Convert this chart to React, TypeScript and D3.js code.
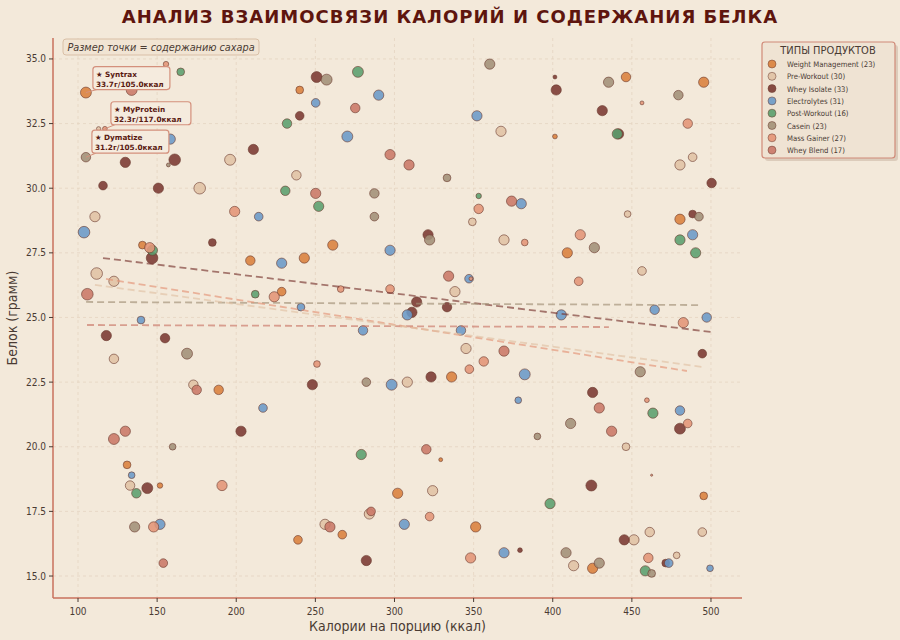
import React from 'react';
import * as d3 from 'd3';

// categories, legend counts and colours
const categories = ['Weight Management', 'Pre-Workout', 'Whey Isolate', 'Electrolytes', 'Post-Workout', 'Casein', 'Mass Gainer', 'Whey Blend'];
const counts = [23, 30, 33, 31, 16, 23, 27, 17];
const colors = ['#d97f3c', '#e0c1a4', '#7a3831', '#6a99c7', '#5a9e6d', '#a29077', '#e39476', '#c97767'];

// [calories, protein, sugar]
const weightManagement = [
  [105, 33.7, 8], [140.7, 27.8, 4], [208.9, 27.2, 6], [228.7, 26.0, 5], [240.1, 33.8, 4], [261, 27.8, 7],
  [243, 27.3, 7], [336.1, 22.7, 7], [329.2, 19.5, 1], [302, 18.2, 7], [267, 16.6, 5], [239, 16.4, 5],
  [351.3, 16.9, 7], [188.9, 22.2, 6], [131, 19.3, 4], [151.8, 18.5, 2], [446.3, 34.3, 6], [495.4, 34.1, 7],
  [401.4, 32.0, 1.5], [480.4, 28.8, 7], [409.2, 27.5, 7], [495.4, 18.1, 4], [425.2, 15.3, 7],
];
const preWorkout = [
  [196.1, 31.1, 8], [176.9, 30.0, 9], [110.7, 28.9, 7], [111.8, 26.7, 9], [122.7, 26.4, 7], [367.3, 32.2, 7],
  [238, 30.5, 6], [349.2, 28.7, 4], [369.2, 28.0, 7], [338.2, 26.0, 7], [345.2, 23.8, 7], [308.1, 22.5, 7],
  [324.1, 18.3, 7], [284.1, 17.4, 7], [256.1, 17.0, 7], [122.7, 23.4, 6], [172.9, 22.4, 6], [132.9, 18.5, 6],
  [488.4, 31.2, 5], [480.4, 30.9, 7], [447.3, 29.0, 3], [456.4, 26.8, 5], [446.3, 20.0, 4], [461.3, 16.7, 6],
  [494.5, 16.7, 5], [451.3, 16.4, 7], [413.2, 15.4, 7], [478.3, 15.8, 3], [113, 32.3, 1.2],
];
const wheyIsolate = [
  [129.9, 31.0, 7], [161.1, 31.1, 9], [210.8, 31.5, 7], [115.8, 30.1, 5], [150.8, 30.0, 7], [184.9, 27.9, 4],
  [146.8, 27.3, 9], [250.8, 34.3, 8], [240.1, 32.8, 5], [321.2, 28.2, 7], [314, 25.6, 7], [311, 25.2, 7],
  [333.2, 25.4, 6], [248.1, 22.4, 7], [323.1, 22.7, 7], [282.2, 15.6, 7], [117.9, 24.3, 7], [155, 24.2, 6],
  [203, 20.6, 7], [143.8, 18.4, 8], [401.4, 34.3, 1], [402.2, 33.8, 7], [431.3, 33.0, 7], [441.6, 32.1, 7],
  [500.4, 30.2, 6], [488.4, 29.0, 4], [494.5, 23.6, 5], [425.2, 22.1, 7], [480.4, 20.7, 8], [424.4, 18.5, 8],
  [445.2, 16.4, 7], [379.3, 16.0, 1.5], [471.4, 15.5, 4],
];
const electrolytes = [
  [158.3, 31.9, 7], [214.2, 28.9, 5], [103.8, 28.3, 9], [228.7, 27.1, 7], [139.8, 24.9, 4], [250.2, 33.3, 5],
  [290, 33.6, 7], [352.1, 32.8, 7], [270.2, 32.0, 8], [380.1, 29.4, 7], [297.2, 27.6, 7], [347.1, 26.5, 5],
  [308.1, 25.1, 7], [240.9, 25.4, 4], [280.1, 24.5, 6], [342, 24.5, 6], [298.2, 22.4, 8], [306.2, 17.0, 7],
  [369.2, 15.9, 7], [216.9, 21.5, 5], [133.9, 18.9, 3], [151.8, 17.0, 7], [488.4, 28.2, 7], [405.4, 25.1, 7],
  [464.4, 25.3, 6], [497.3, 25.0, 6], [382.3, 22.8, 8], [378.2, 21.8, 3], [480.4, 21.4, 6], [473.3, 15.5, 5],
  [499.4, 15.3, 3],
];
const postWorkout = [
  [164.9, 34.5, 4], [232.1, 32.5, 6], [231, 29.9, 6], [147, 27.6, 7], [212, 25.9, 4], [276.9, 34.5, 8],
  [252.1, 29.3, 7], [353.2, 29.7, 2], [279, 19.7, 7], [136.9, 18.2, 6], [440.8, 32.1, 7], [480.4, 28.0, 7],
  [490.3, 27.5, 7], [463.3, 21.3, 7], [398.3, 17.8, 7], [458.5, 15.2, 7],
];
const casein = [
  [105, 31.2, 6], [157.1, 30.9, 1], [257.1, 34.2, 8], [360.2, 34.8, 7], [333.2, 30.4, 4], [287.3, 29.8, 6],
  [287.3, 28.9, 5], [322.2, 28.0, 7], [282.2, 22.5, 5], [168.9, 23.6, 8], [159.8, 20.0, 3], [135.8, 16.9, 7],
  [435.3, 34.1, 7], [479.4, 33.6, 6], [492.4, 28.9, 5], [426.3, 27.7, 7], [455.3, 22.9, 7], [411.3, 20.9, 7],
  [390.3, 20.4, 3], [408.4, 15.9, 7], [429.4, 15.5, 7], [462.5, 15.1, 4],
];
const massGainer = [
  [155.6, 34.8, 2], [145.3, 27.7, 7], [199, 29.1, 7], [224, 25.8, 7], [353.2, 29.2, 6], [348.3, 26.5, 1],
  [266, 26.1, 3], [297.2, 26.1, 5], [356.4, 23.3, 6], [347.3, 23.0, 5], [251, 23.2, 3], [322.2, 17.3, 5],
  [348.1, 15.7, 7], [147.8, 16.9, 7], [191, 18.5, 7], [456.4, 33.3, 1], [485.3, 32.5, 6], [417.4, 28.2, 7],
  [382.3, 27.9, 3], [416.4, 26.4, 5], [482.5, 24.8, 7], [459.5, 21.8, 1.5], [485.3, 20.9, 5], [462.5, 18.9, 0.3],
  [460.4, 15.7, 6], [117, 32.3, 1.5],
];
const wheyBlend = [
  [133.9, 33.8, 8], [105.9, 25.9, 9], [275.2, 33.1, 6], [297.2, 31.3, 7], [309.2, 30.9, 7], [250.2, 29.8, 7],
  [374, 29.5, 7], [334.2, 26.6, 7], [369.2, 23.7, 7], [320.1, 19.9, 6], [285.2, 17.5, 5], [259.2, 16.9, 7],
  [175, 22.2, 6], [129.9, 20.6, 7], [122.7, 20.3, 8], [153.9, 15.5, 5], [429.4, 21.5, 7], [437.2, 20.6, 7],
];
const series = [weightManagement, preWorkout, wheyIsolate, electrolytes, postWorkout, casein, massGainer, wheyBlend];

// dashed trend lines: category index, [x1, y1, x2, y2]
const trends = [
  { cat: 2, line: [115.8, 27.3, 500, 24.44] },
  { cat: 5, line: [105.1, 25.6, 493, 25.48] },
  { cat: 7, line: [105.7, 24.71, 435.5, 24.63] },
  { cat: 6, line: [117.7, 26.49, 484.8, 22.93] },
  { cat: 1, line: [110.7, 26.26, 494.3, 23.09] },
];

const highlights = [
  { name: 'Syntrax', protein: 33.7, kcal: 105.0 },
  { name: 'MyProtein', protein: 32.3, kcal: 117.0 },
  { name: 'Dymatize', protein: 31.2, kcal: 105.0 },
];
const labelOffsets = [[7, -26], [6, -27], [6, -27]];

const xTicks = [100, 150, 200, 250, 300, 350, 400, 450, 500];
const yTicks = [15, 17.5, 20, 22.5, 25, 27.5, 30, 32.5, 35];

const W = 900;
const H = 640;
const left = 53, right = 742, top = 38, bottom = 598;
const bg = '#f3e9da';
const textCol = '#4a3b33';
const condensed = '"DejaVu Sans Condensed", "DejaVu Sans", sans-serif';
const plain = '"DejaVu Sans", sans-serif';

export default function App() {
  const x = d3.scaleLinear().domain([84.2, 519.6]).range([left, right]);
  const y = d3.scaleLinear().domain([14.15, 35.81]).range([bottom, top]);
  const r = d3.scaleSqrt().domain([0, 9]).range([0, 5.8]);

  const points = series.flatMap((s, ci) => s.map((d, i) => ({ ci, i, cal: d[0], prot: d[1], sugar: d[2] })));

  return (
    <svg width={W} height={H} style={{ position: 'absolute', left: 0, top: 0, background: bg }} fontFamily={condensed}>
      <rect width={W} height={H} fill={bg} />
      <text x={450} y={23} textAnchor="middle" fontSize={18} fontWeight="bold" fill="#5e150e" letterSpacing={1} fontFamily={plain}>
        АНАЛИЗ ВЗАИМОСВЯЗИ КАЛОРИЙ И СОДЕРЖАНИЯ БЕЛКА
      </text>

      {/* grid */}
      <g stroke="#e5d4c1" strokeWidth={0.8} strokeDasharray="3 3">
        {xTicks.map(t => <line key={'gx' + t} x1={x(t)} x2={x(t)} y1={top} y2={bottom} />)}
        {yTicks.map(t => <line key={'gy' + t} x1={left} x2={right} y1={y(t)} y2={y(t)} />)}
      </g>

      {/* points */}
      <g>
        {points.map(p => (
          <circle key={p.ci + '-' + p.i} cx={x(p.cal)} cy={y(p.prot)} r={r(p.sugar)}
            fill={colors[p.ci]} fillOpacity={0.88} stroke="#6b3b2f" strokeOpacity={0.6} strokeWidth={1} />
        ))}
      </g>

      {/* trends */}
      <g fill="none" strokeWidth={1.8} strokeDasharray="7 4" strokeOpacity={0.65}>
        {trends.map(t => (
          <line key={'t' + t.cat} x1={x(t.line[0])} y1={y(t.line[1])} x2={x(t.line[2])} y2={y(t.line[3])} stroke={colors[t.cat]} />
        ))}
      </g>

      {/* axes */}
      <g stroke="#c8705c" strokeWidth={1.5}>
        <line x1={left} x2={left} y1={top} y2={bottom} />
        <line x1={left} x2={right} y1={bottom} y2={bottom} />
      </g>
      <g fontSize={10} fill={textCol}>
        {xTicks.map(t => (
          <g key={'xt' + t}>
            <line x1={x(t)} x2={x(t)} y1={bottom} y2={bottom + 4} stroke={textCol} />
            <text x={x(t)} y={bottom + 17} textAnchor="middle">{t}</text>
          </g>
        ))}
        {yTicks.map(t => (
          <g key={'yt' + t}>
            <line x1={left - 4} x2={left} y1={y(t)} y2={y(t)} stroke={textCol} />
            <text x={left - 7} y={y(t) + 3.5} textAnchor="end">{t.toFixed(1)}</text>
          </g>
        ))}
      </g>
      <text x={(left + right) / 2} y={631} textAnchor="middle" fontSize={14} fill={textCol}>Калории на порцию (ккал)</text>
      <text transform={`translate(17, ${(top + bottom) / 2}) rotate(-90)`} textAnchor="middle" fontSize={14} fill={textCol}>Белок (грамм)</text>

      {/* size note */}
      <rect x={63} y={39} width={196} height={16} rx={3} fill="#f1e4d3" stroke="#d9bfa6" strokeWidth={1} />
      <text x={161} y={51} textAnchor="middle" fontSize={10.8} fontStyle="italic" fill={textCol}>Размер точки = содержанию сахара</text>

      {/* highlighted products */}
      {highlights.map((h, i) => {
        const px = x(h.kcal), py = y(h.protein);
        const bx = px + labelOffsets[i][0], by = py + labelOffsets[i][1];
        return (
          <g key={h.name} fontFamily={plain}>
            <line x1={px} y1={py} x2={bx + 4} y2={by + 23} stroke="#d4907c" strokeWidth={1} />
            <rect x={bx} y={by} width={h.name.length > 8 ? 80 : 77} height={23} rx={3} fill="#f5ebde" stroke="#d4907c" strokeWidth={1.2} />
            <text x={bx + 3} y={by + 10} fontSize={7.3} fontWeight="bold" fill="#5a1a12">★ {h.name}</text>
            <text x={bx + 3} y={by + 20} fontSize={7.3} fontWeight="bold" fill="#5a1a12">{h.protein.toFixed(1)}г/{h.kcal.toFixed(1)}ккал</text>
          </g>
        );
      })}

      {/* legend */}
      <g>
        <rect x={765} y={45} width={133} height={116} rx={3} fill="#cdb9a6" opacity={0.6} />
        <rect x={762} y={42} width={133} height={116} rx={3} fill="#efe3d3" stroke="#d08a78" strokeWidth={1.2} />
        <text x={828} y={54} textAnchor="middle" fontSize={11} fill={textCol}>ТИПЫ ПРОДУКТОВ</text>
        {categories.map((c, i) => (
          <g key={c} transform={`translate(0, ${64 + i * 12.3})`}>
            <circle cx={772} cy={0} r={4} fill={colors[i]} fillOpacity={0.9} stroke="#6b3b2f" strokeOpacity={0.5} />
            <text x={787} y={3} fontSize={7.7} fill={textCol}>{c} ({counts[i]})</text>
          </g>
        ))}
      </g>
    </svg>
  );
}
